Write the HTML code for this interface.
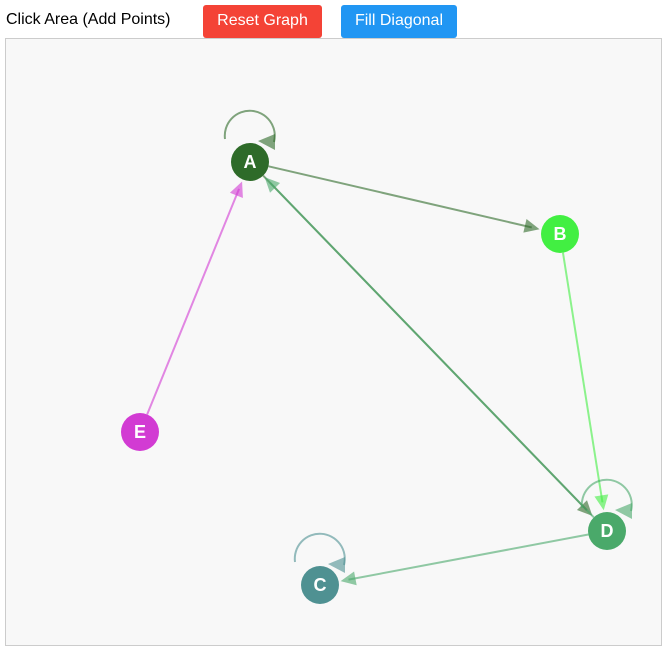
<!DOCTYPE html>
<html><head><meta charset="utf-8"><style>
html,body{margin:0;padding:0;background:#fff;width:662px;height:646px;overflow:hidden;font-family:"Liberation Sans",Arial,sans-serif}
#bar{position:absolute;left:0;top:0;height:38px;width:662px}
#lbl{position:absolute;left:6px;top:11px;font-size:16px;color:#000}
.btn{position:absolute;top:5px;height:33px;border-radius:3px;color:#fff;font-size:16px;line-height:31px;text-align:center}
#reset{left:203px;width:119px;background:#f44336}
#fill{left:341px;width:116px;background:#2196f3}
#area{position:absolute;left:5px;top:38px;width:657px;height:608px;background:#f8f8f8;border:1px solid #ccc;box-sizing:border-box}
svg{position:absolute;left:0;top:0}
</style></head><body>
<div id="bar">
<span id="lbl">Click Area (Add Points)</span>
<div class="btn" id="reset">Reset Graph</div>
<div class="btn" id="fill">Fill Diagonal</div>
</div>
<div id="area"></div>
<svg id="g" width="662" height="646"></svg>
<script>
const nodeLabels=["A","B","C","D","E"];
const nodeX=[250,560,320,607,140];
const nodeY=[162,234,585,531,432];
const nodeColors=["#2e6b29","#42ef42","#4f9192","#4aa96a","#d23bd3"];
const edgeFrom=[0,1,3,4,0,3];
const edgeTo=[1,3,2,0,3,0];
const loops=[0,2,3];
const R=19;
const NS="http://www.w3.org/2000/svg";
const svg=document.getElementById('g');
function mk(t,a){const e=document.createElementNS(NS,t);for(const k in a)e.setAttribute(k,a[k]);svg.appendChild(e);return e;}
function head(x,y,ang,col){
  const L=15,W=7;
  const bx=x-L*Math.cos(ang),by=y-L*Math.sin(ang);
  const px=-Math.sin(ang)*W,py=Math.cos(ang)*W;
  return mk('polygon',{points:`${x},${y} ${bx+px},${by+py} ${bx-px},${by-py}`,fill:col,'fill-opacity':0.6});
}
for(let i=0;i<edgeFrom.length;i++){
  const a=edgeFrom[i],b=edgeTo[i],col=nodeColors[a];
  const x1=nodeX[a],y1=nodeY[a],x2=nodeX[b],y2=nodeY[b];
  const ang=Math.atan2(y2-y1,x2-x1);
  const sx=x1+R*Math.cos(ang),sy=y1+R*Math.sin(ang);
  const ex=x2-(R+2)*Math.cos(ang),ey=y2-(R+2)*Math.sin(ang);
  const l=mk('line',{x1:sx,y1:sy,x2:ex-8*Math.cos(ang),y2:ey-8*Math.sin(ang),stroke:col,'stroke-width':2,'stroke-opacity':0.6});
  
  
  const h=head(ex,ey,ang,col);
  
  
}
for(const n of loops){
  const cx=nodeX[n],cy=nodeY[n]-24,r=25,col=nodeColors[n];
  const p=mk('path',{d:`M${cx-r},${cy+1} A${r},${r} 0 1 1 ${cx+r-1},${cy+4}`,fill:'none',stroke:col,'stroke-width':2,'stroke-opacity':0.6});
  
  
  const h=head(cx+8,cy+4,Math.PI+0.2,col);
  h.setAttribute('points',`${cx+8},${cy+3} ${cx+25},${cy-4} ${cx+25},${cy+12}`);
  
  
}
for(let i=0;i<nodeLabels.length;i++){
  const c=mk('circle',{cx:nodeX[i],cy:nodeY[i],r:R,fill:nodeColors[i]});
  
  
  const t=mk('text',{x:nodeX[i],y:nodeY[i]+6,'text-anchor':'middle','font-size':18,'font-weight':'bold',fill:'#fff','font-family':'Liberation Sans, Arial, sans-serif'});
  t.textContent=nodeLabels[i];
  
  
}
</script>
</body></html>
